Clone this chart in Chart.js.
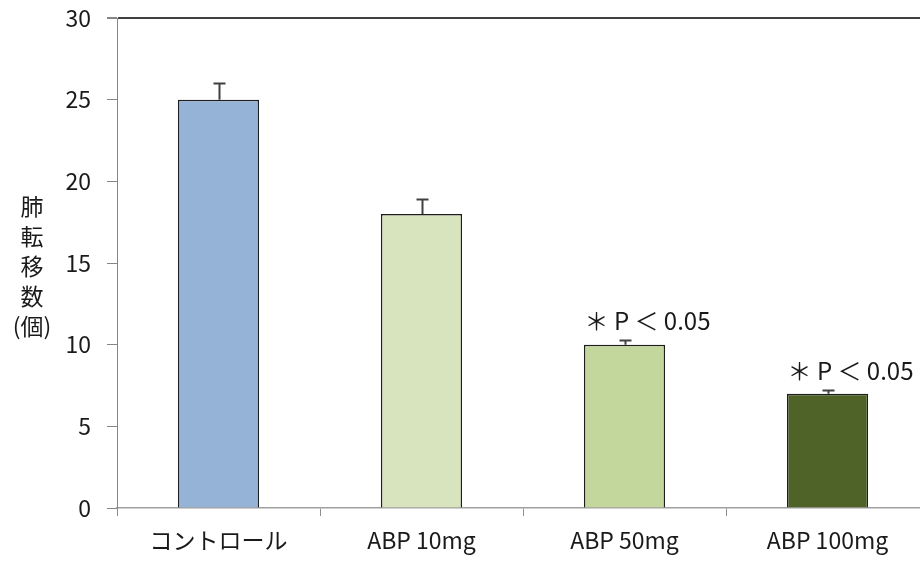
<!DOCTYPE html>
<html>
<head>
<meta charset="utf-8">
<script src="https://cdn.jsdelivr.net/npm/chart.js@4/dist/chart.umd.min.js"></script>
<style>
  html, body { margin: 0; padding: 0; background: #fff; overflow: hidden; }
  #wrap { width: 930px; height: 561px; }
</style>
</head>
<body>
<div id="wrap"><canvas id="c" width="930" height="561"></canvas></div>
<script>
const categories = ['コントロール', 'ABP 10mg', 'ABP 50mg', 'ABP 100mg'];
const values = [25, 18, 10, 7];
const errors = [1.0, 0.9, 0.3, 0.2];
const barColors = ['#95B3D7', '#D7E4BD', '#C3D69B', '#4F6228'];
const significance = ['', '', '＊ P ＜ 0.05', '＊ P ＜ 0.05'];
const yTitleLines = ['肺', '転', '移', '数', '(個)'];
const yMin = 0, yMax = 30, yStep = 5;

const FONT = '"Noto Sans CJK JP", "Noto Sans", sans-serif';
const TEXT = '#1a1a1a';
const FS = 23;

const extras = {
  id: 'extras',
  afterDatasetsDraw(chart) {
    const ctx = chart.ctx;
    const meta = chart.getDatasetMeta(0);
    const ys = chart.scales.y;
    ctx.save();
    ctx.strokeStyle = '#404040';
    ctx.lineWidth = 2;
    meta.data.forEach((bar, i) => {
      const x = Math.round(bar.x) + 0.5;
      const yBase = bar.y;
      const yTop = Math.round(ys.getPixelForValue(values[i] + errors[i])) + 0.5;
      ctx.beginPath();
      ctx.moveTo(x, yBase);
      ctx.lineTo(x, yTop);
      ctx.moveTo(x - 6, yTop);
      ctx.lineTo(x + 6, yTop);
      ctx.stroke();
      if (significance[i]) {
        ctx.fillStyle = TEXT;
        ctx.font = '24px ' + FONT;
        ctx.textAlign = 'left';
        ctx.textBaseline = 'middle';
        ctx.fillText(significance[i], bar.x - 40, yTop - 20);
      }
    });
    ctx.fillStyle = TEXT;
    ctx.font = FS + 'px ' + FONT;
    ctx.textAlign = 'center';
    ctx.textBaseline = 'middle';
    yTitleLines.forEach((t, i) => {
      ctx.fillText(t, 32, 206 + i * 30);
    });
    ctx.restore();
  }
};

new Chart(document.getElementById('c'), {
  type: 'bar',
  data: {
    labels: categories,
    datasets: [{
      data: values,
      backgroundColor: barColors,
      borderColor: '#1e1e1e',
      borderWidth: 1.5,
      borderSkipped: 'bottom',
      barPercentage: 0.4,
      categoryPercentage: 1.0
    }]
  },
  options: {
    responsive: false,
    animation: false,
    devicePixelRatio: 1,
    layout: { padding: { top: 18, right: 1, left: 0, bottom: 0 } },
    plugins: { legend: { display: false }, tooltip: { enabled: false }, title: { display: false } },
    scales: {
      x: {
        afterFit(s) { s.height = 53; s.paddingLeft = 0; s.paddingRight = 0; },
        border: { display: true, color: '#a0a0a0', width: 1.5 },
        grid: { display: true, offset: true, drawOnChartArea: false, drawTicks: true, tickLength: 8, tickColor: '#909090', tickWidth: 1 },
        ticks: { color: TEXT, font: { family: FONT, size: FS }, padding: 10, maxRotation: 0 }
      },
      y: {
        min: yMin, max: yMax,
        afterFit(s) { s.width = 117; s.paddingTop = 0; s.paddingBottom = 0; },
        border: { display: true, color: '#868686', width: 1 },
        grid: {
          display: true,
          drawOnChartArea: true,
          drawTicks: true,
          tickLength: 10,
          tickColor: '#868686',
          color: c => (c.tick && c.tick.value === yMax) ? '#404040' : 'rgba(0,0,0,0)',
          lineWidth: c => (c.tick && c.tick.value === yMax) ? 2 : 1
        },
        ticks: { stepSize: yStep, color: TEXT, font: { family: FONT, size: FS }, padding: 16 }
      }
    }
  },
  plugins: [extras]
});
</script>
</body>
</html>
